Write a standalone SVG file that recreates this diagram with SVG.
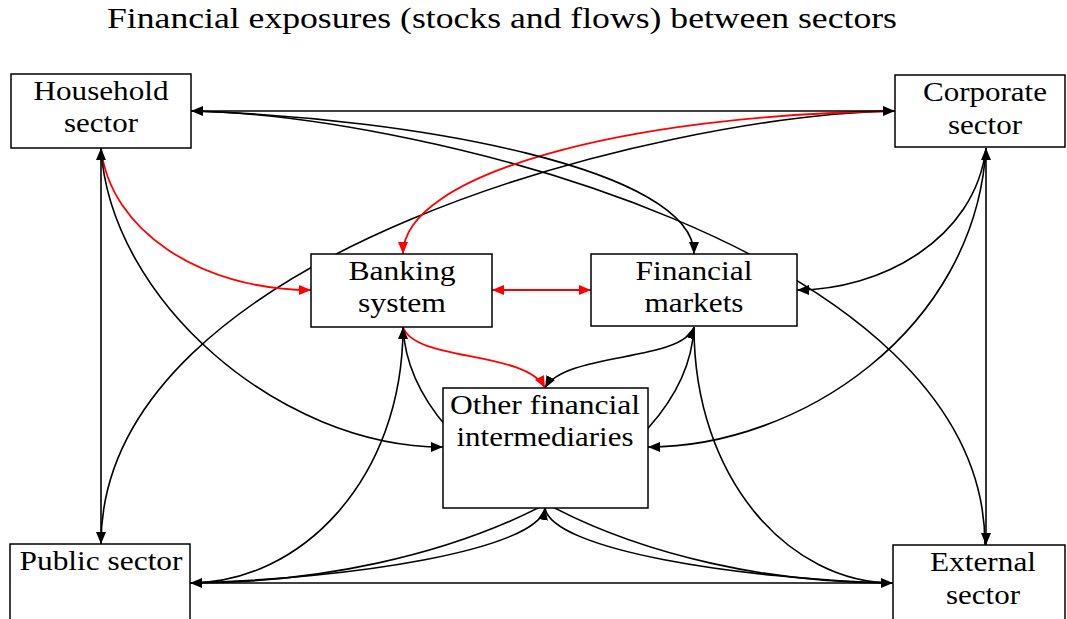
<svg xmlns="http://www.w3.org/2000/svg" width="1067" height="619" viewBox="0 0 1067 619">
<style>
.box{fill:#fff;stroke:#000;stroke-width:1.5}
.t{font-size:28px;fill:#000;text-anchor:middle}
.k{fill:none;stroke:#000;stroke-width:1.6}
.r{fill:none;stroke:#f00;stroke-width:1.8}
</style>
<defs>
<marker id="ab" markerUnits="userSpaceOnUse" markerWidth="13" markerHeight="11" refX="12" refY="5" orient="auto-start-reverse" viewBox="0 0 13 11"><path d="M0,0 L12,5 L0,10 z" fill="#000"/></marker>
<marker id="ar" markerUnits="userSpaceOnUse" markerWidth="13" markerHeight="11" refX="12" refY="5" orient="auto-start-reverse" viewBox="0 0 13 11"><path d="M0,0 L12,5 L0,10 z" fill="#f00"/></marker>
</defs>
<rect width="1067" height="619" fill="#fff"/>
<g font-family="Liberation Serif, Times New Roman, Times, serif">
<text x="107" y="28" font-size="30" textLength="790" lengthAdjust="spacingAndGlyphs">Financial exposures (stocks and flows) between sectors</text>
</g>
<g id="connectors">
<path class="k" d="M191,111 C420,115 985,250 985,545"/>
<path class="k" d="M895,111 C666,115 101,250 101,544"/>
<path class="k" d="M403,327 C410,470 640,583 893,583"/>
<path class="k" d="M694,327 C687,470 450,583 190,583"/>
<path class="r" d="M895,111 C620,115 403,175 403,254" marker-end="url(#ar)"/>
<path class="k" d="M191,111 C420,118 694,170 694,254" marker-end="url(#ab)"/>
<path class="k" d="M191,111 L895,111" marker-start="url(#ab)" marker-end="url(#ab)"/>
<path class="r" d="M101,148 C110,230 200,290 311,290" marker-end="url(#ar)"/>
<path class="k" d="M101,148 C110,300 280,447 443,447" marker-end="url(#ab)"/>
<path class="k" d="M101,148 L101,544" marker-start="url(#ab)" marker-end="url(#ab)"/>
<path class="k" d="M986,148 C975,240 880,290 797,290" marker-end="url(#ab)"/>
<path class="k" d="M986,148 C975,330 800,447 648,447" marker-end="url(#ab)"/>
<path class="k" d="M986,148 L986,545" marker-start="url(#ab)" marker-end="url(#ab)"/>
<path class="r" d="M492,290 L591,290" marker-start="url(#ar)" marker-end="url(#ar)"/>
<path class="k" d="M694,327 C682,362 565,352 545,388" marker-start="url(#ab)" marker-end="url(#ab)"/>
<path class="r" d="M403,327 C415,362 525,350 545,388" marker-end="url(#ar)"/>
<path class="k" d="M403,327 C403,480 300,583 190,583" marker-start="url(#ab)"/>
<path class="k" d="M694,327 C694,480 790,583 893,583"/>
<path class="k" d="M545,508 C538,550 350,579 190,583" marker-start="url(#ab)"/>
<path class="k" d="M545,508 C552,550 740,579 893,583"/>
<path class="k" d="M190,583 L893,583" marker-start="url(#ab)" marker-end="url(#ab)"/>
</g>
<g font-family="Liberation Serif, Times New Roman, Times, serif">
<g id="household"><rect class="box" x="11" y="74" width="180" height="74"/><text class="t" x="101" y="100" textLength="135" lengthAdjust="spacingAndGlyphs">Household</text><text class="t" x="101" y="132" textLength="74" lengthAdjust="spacingAndGlyphs">sector</text></g>
<g id="corporate"><rect class="box" x="895" y="75" width="170" height="72"/><text class="t" x="985" y="101" textLength="124" lengthAdjust="spacingAndGlyphs">Corporate</text><text class="t" x="985" y="134" textLength="74" lengthAdjust="spacingAndGlyphs">sector</text></g>
<g id="banking"><rect class="box" x="311" y="254" width="181" height="73"/><text class="t" x="402" y="280" textLength="107" lengthAdjust="spacingAndGlyphs">Banking</text><text class="t" x="402" y="312" textLength="88" lengthAdjust="spacingAndGlyphs">system</text></g>
<g id="markets"><rect class="box" x="591" y="254" width="206" height="72"/><text class="t" x="694" y="280" textLength="117" lengthAdjust="spacingAndGlyphs">Financial</text><text class="t" x="694" y="312" textLength="99" lengthAdjust="spacingAndGlyphs">markets</text></g>
<g id="ofi"><rect class="box" x="443" y="388" width="205" height="120"/><text class="t" x="545" y="414" textLength="190" lengthAdjust="spacingAndGlyphs">Other financial</text><text class="t" x="545" y="446" textLength="177" lengthAdjust="spacingAndGlyphs">intermediaries</text></g>
<g id="public"><rect class="box" x="10" y="544" width="180" height="90"/><text class="t" x="101" y="570" textLength="163" lengthAdjust="spacingAndGlyphs">Public sector</text></g>
<g id="external"><rect class="box" x="893" y="545" width="172" height="90"/><text class="t" x="983" y="571" textLength="106" lengthAdjust="spacingAndGlyphs">External</text><text class="t" x="983" y="604" textLength="74" lengthAdjust="spacingAndGlyphs">sector</text></g>
</g>
</svg>
